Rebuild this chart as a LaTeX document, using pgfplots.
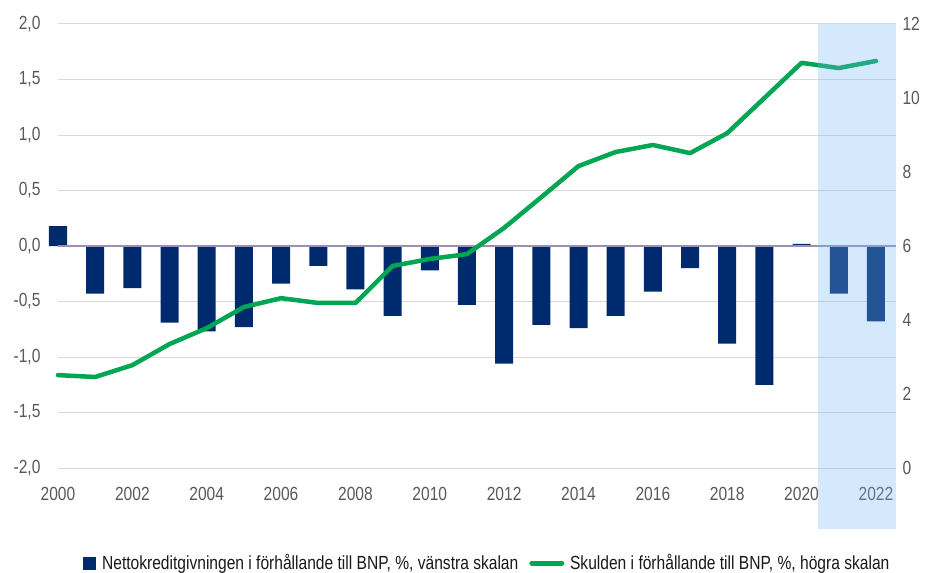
\documentclass[border=0pt]{standalone}
\usepackage{fontspec}
\setmainfont{Liberation Sans}[FakeStretch=0.82]
\usepackage{pgfplots}
\pgfplotsset{compat=1.18}

\definecolor{navy}{HTML}{002A6E}
\definecolor{grn}{HTML}{00A651}
\definecolor{fcshade}{RGB}{114,182,244}
\definecolor{zeroline}{HTML}{9B8FB8}
\definecolor{gridc}{HTML}{D9D9D9}
\definecolor{tickc}{HTML}{595959}

\pgfplotsset{
  base/.style={
    scale only axis, width=838bp, height=444bp,
    xmin=2000, xmax=2022.54,
    axis line style={draw=none},
    major tick length=0pt,
    clip=false,
    tick label style={font=\fontsize{19bp}{22bp}\selectfont, text=tickc},
    /pgf/number format/assume math mode=true,
  }
}

\begin{document}
\begin{tikzpicture}
\useasboundingbox (-58bp,-105bp) rectangle (876bp,468bp);

% net lending, left scale
\begin{axis}[base,
  ymin=-2, ymax=2, ytick={-2,-1.5,...,2},
  ymajorgrids, grid style={gridc, line width=1bp},
  xtick={2000,2002,...,2022},
  xticklabel style={/pgf/number format/1000 sep={}, yshift=-16bp},
  yticklabel style={/pgf/number format/.cd, use comma, fixed, fixed zerofill, precision=1, /tikz/.cd, xshift=-14bp},
]
\addplot[ybar, bar width=18bp, bar shift=0pt, fill=navy, draw=none] coordinates {
(2000,0.18) (2001,-0.43) (2002,-0.38) (2003,-0.69) (2004,-0.77)
(2005,-0.73) (2006,-0.34) (2007,-0.18) (2008,-0.39) (2009,-0.63)
(2010,-0.22) (2011,-0.53) (2012,-1.06) (2013,-0.71) (2014,-0.74)
(2015,-0.63) (2016,-0.41) (2017,-0.20) (2018,-0.88) (2019,-1.25)
(2020,0.02) (2021,-0.43) (2022,-0.68)
};
\draw[zeroline, line width=1.2bp] (axis cs:2000,0) -- (axis cs:2022.54,0);
\end{axis}

% debt, right scale
\begin{axis}[base,
  ymin=0, ymax=12, ytick={0,2,...,12},
  yticklabel pos=right,
  yticklabel style={xshift=3bp},
  xtick=\empty,
  legend style={at={(0.512,-0.214)}, anchor=center, draw=none, fill=none,
    font=\fontsize{19bp}{22bp}\selectfont, text=black!90,
    /tikz/every even column/.append style={column sep=9bp}},
  legend columns=2, legend cell align=left,
]
\addlegendimage{legend image code/.code={\fill[navy] (0bp,-6bp) rectangle (12bp,6bp); \path (17bp,0bp);}}
\addlegendentry{Nettokreditgivningen i förhållande till BNP, \%, vänstra skalan}
\addplot[grn, line width=4.5bp, line join=round, line cap=round,
  legend image code/.code={\draw[grn, line width=5bp, line cap=round] (2bp,0bp) -- (32bp,0bp); \path (36bp,0bp);}] coordinates {
(2000,2.51) (2001,2.46) (2002,2.78) (2003,3.35) (2004,3.78)
(2005,4.35) (2006,4.59) (2007,4.46) (2008,4.46) (2009,5.46)
(2010,5.65) (2011,5.78) (2012,6.49) (2013,7.32) (2014,8.16)
(2015,8.54) (2016,8.73) (2017,8.51) (2018,9.05) (2019,10.0)
(2020,10.95) (2021,10.81) (2022,11.0)
};
\addlegendentry{Skulden i förhållande till BNP, \%, högra skalan}
\fill[fcshade, opacity=0.306] ([yshift=-61bp]axis cs:2020.44,0) rectangle (axis cs:2022.54,12);
\end{axis}
\end{tikzpicture}
\end{document}
